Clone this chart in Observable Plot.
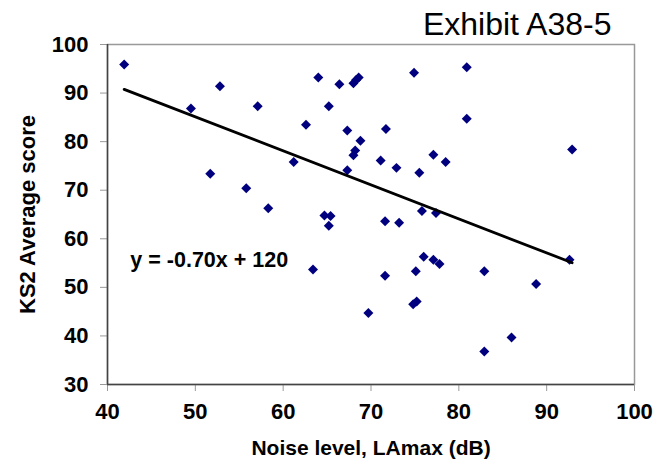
<!DOCTYPE html>
<html>
<head>
<meta charset="utf-8">
<script src="https://cdn.jsdelivr.net/npm/d3@7"></script>
<script src="https://cdn.jsdelivr.net/npm/@observablehq/plot@0.6"></script>
<style>
  html, body { margin: 0; padding: 0; background: #fff; }
  #chart svg text { font-weight: bold; }
</style>
</head>
<body>
<div id="chart"></div>
<script>
const title = "Exhibit A38-5";
const xLabel = "Noise level, LAmax (dB)";
const yLabel = "KS2 Average score";
const equationLabel = "y = -0.70x + 120";

const xTicks = [40, 50, 60, 70, 80, 90, 100];
const yTicks = [30, 40, 50, 60, 70, 80, 90, 100];

const noiseLevel = [41.9, 49.5, 52.8, 51.7, 57.1, 55.8, 58.3, 61.2, 62.6, 64.0, 63.4, 64.7, 65.4, 65.2, 65.2, 66.4, 67.3, 67.3, 68.0, 68.3, 68.6, 68.0, 68.2, 68.8, 69.7, 71.1, 71.7, 71.6, 71.6, 72.9, 73.2, 74.9, 75.5, 75.8, 75.1, 74.8, 75.2, 76.0, 77.1, 77.8, 77.1, 78.5, 77.4, 80.9, 80.9, 82.9, 82.9, 86.0, 88.8, 92.6, 92.9];
const ks2Score   = [95.9, 86.8, 91.4, 73.4, 87.3, 70.4, 66.3, 75.8, 83.5, 93.2, 53.7, 64.8, 64.7, 62.7, 87.3, 91.8, 82.3, 74.1, 92.0, 92.7, 93.2, 77.2, 78.2, 80.2, 44.7, 76.1, 82.6, 63.6, 52.4, 74.6, 63.3, 94.2, 73.6, 65.7, 53.3, 46.5, 47.1, 56.3, 55.7, 54.8, 77.3, 75.8, 65.3, 95.3, 84.7, 53.3, 36.8, 39.7, 50.7, 55.7, 78.4];

const trendSlope = -0.70;
const trendIntercept = 120.1;

const points = noiseLevel.map((x, i) => ({x, y: ks2Score[i]}));
const [xMin, xMax] = d3.extent(noiseLevel);
const trend = [xMin, xMax].map(x => ({x, y: trendIntercept + trendSlope * x}));

const chart = Plot.plot({
  width: 667,
  height: 463,
  marginTop: 44,
  marginLeft: 107,
  marginRight: 33,
  marginBottom: 79,
  style: {fontFamily: "'Liberation Sans', Arial, sans-serif", fontSize: "22px", background: "#fff", color: "#000"},
  x: {domain: [40, 100]},
  y: {domain: [30, 100]},
  marks: [
    Plot.frame({stroke: "#999", strokeWidth: 1.5}),
    Plot.axisX({ticks: xTicks, tickSize: 7, tickPadding: 12, stroke: "#999", fill: "#000", label: null, fontSize: 22, fontWeight: "bold"}),
    Plot.axisY({ticks: yTicks, tickSize: 7, tickPadding: 12, stroke: "#999", fill: "#000", label: null, fontSize: 22, fontWeight: "bold"}),
    Plot.ruleX([40], {stroke: "#444", strokeWidth: 1.5}),
    Plot.ruleY([30], {stroke: "#444", strokeWidth: 1.5}),
    Plot.dot(points, {x: "x", y: "y", symbol: "diamond2", r: 4.5, fill: "#00007f", stroke: "none"}),
    Plot.line(trend, {x: "x", y: "y", stroke: "#000", strokeWidth: 2.8}),
    Plot.text([equationLabel], {x: 42.6, y: 55.6, text: d => d, textAnchor: "start", lineAnchor: "middle", fontSize: 21.5, fontWeight: "bold", fill: "#000"}),
    Plot.text([title], {frameAnchor: "top-right", text: d => d, textAnchor: "end", lineAnchor: "middle", dx: -23, dy: -19.5, fontSize: 32, fontWeight: "normal", fill: "#000"}),
    Plot.text([xLabel], {frameAnchor: "bottom", text: d => d, textAnchor: "middle", lineAnchor: "middle", dy: 64, fontSize: 21, fontWeight: "bold", fill: "#000"}),
    Plot.text([yLabel], {frameAnchor: "left", text: d => d, rotate: -90, textAnchor: "middle", lineAnchor: "middle", dx: -80, fontSize: 22, fontWeight: "bold", fill: "#000"})
  ]
});
document.getElementById("chart").appendChild(chart);
chart.querySelectorAll("text").forEach(t => { if (t.textContent === title) t.style.fontWeight = "normal"; });
</script>
</body>
</html>
